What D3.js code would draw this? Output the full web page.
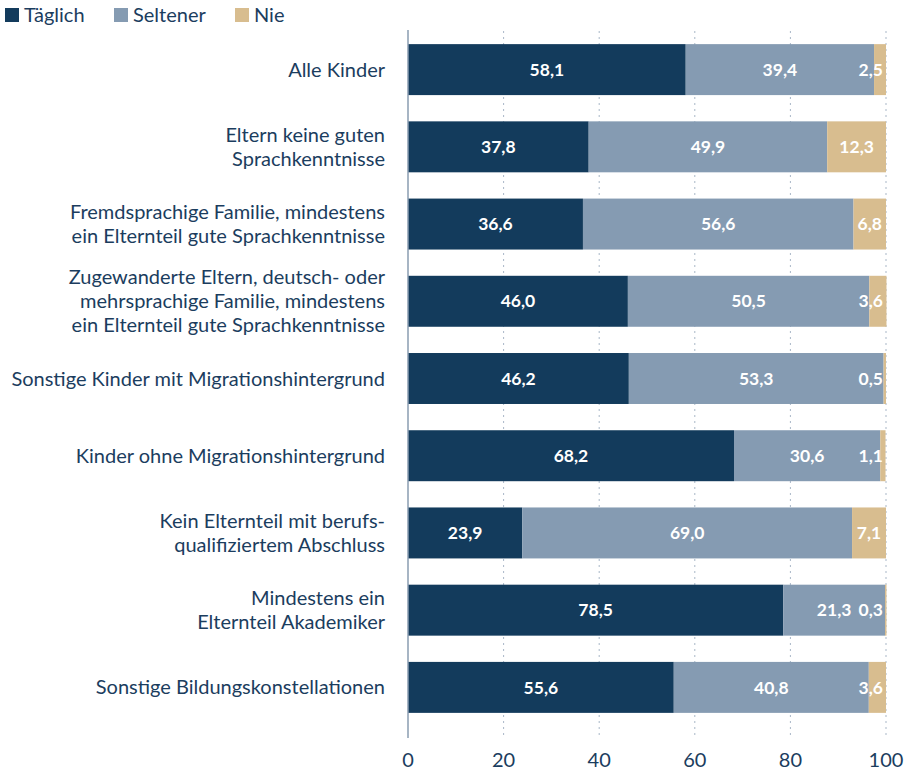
<!DOCTYPE html>
<html>
<head>
<meta charset="utf-8">
<script src="https://cdn.jsdelivr.net/npm/d3@7"></script>
<style>
  body { margin: 0; background: #fff; }
  text { font-family: "Source Sans Pro", Lato, "Noto Sans", sans-serif; }
</style>
</head>
<body>
<div id="chart"></div>
<script>
// Daten
const categories = [
  ["Alle Kinder"],
  ["Eltern keine guten", "Sprachkenntnisse"],
  ["Fremdsprachige Familie, mindestens", "ein Elternteil gute Sprachkenntnisse"],
  ["Zugewanderte Eltern, deutsch- oder", "mehrsprachige Familie, mindestens", "ein Elternteil gute Sprachkenntnisse"],
  ["Sonstige Kinder mit Migrationshintergrund"],
  ["Kinder ohne Migrationshintergrund"],
  ["Kein Elternteil mit berufs-", "qualifiziertem Abschluss"],
  ["Mindestens ein", "Elternteil Akademiker"],
  ["Sonstige Bildungskonstellationen"]
];
const taeglich = [58.1, 37.8, 36.6, 46.0, 46.2, 68.2, 23.9, 78.5, 55.6];
const seltener = [39.4, 49.9, 56.6, 50.5, 53.3, 30.6, 69.0, 21.3, 40.8];
const nie      = [2.5, 12.3, 6.8, 3.6, 0.5, 1.1, 7.1, 0.3, 3.6];
const seriesNames = ["Täglich", "Seltener", "Nie"];
const xTicks = [0, 20, 40, 60, 80, 100];

const colors = ["#133b5c", "#859bb2", "#d8bd8f"];
const textColor = "#1b3d5e";

const W = 907, H = 770;
const svg = d3.select("#chart").append("svg")
  .attr("width", W)
  .attr("height", H);

const plotL = 408, plotR = 886, plotT = 31, plotB = 726;

const rows = categories.map((c, i) => ({
  key: i, lines: c, vals: [taeglich[i], seltener[i], nie[i]]
}));

const x = d3.scaleLinear().domain([0, 100]).range([plotL, plotR]);
const y = d3.scaleBand()
  .domain(rows.map(d => d.key))
  .range([plotT, plotB])
  .paddingInner(0.34)
  .paddingOuter(0.17);

// Gitterlinien
svg.append("g")
  .selectAll("line")
  .data(xTicks.filter(t => t > 0))
  .enter()
  .append("line")
  .attr("x1", d => x(d)).attr("x2", d => x(d))
  .attr("y1", plotT).attr("y2", 738)
  .attr("stroke", "#a9b7c7")
  .attr("stroke-width", 1)
  .attr("stroke-dasharray", "2,4");

// Balken
const stack = d3.stack().keys([0, 1, 2]).value((d, k) => d.vals[k])(rows);

const layers = svg.append("g")
  .selectAll("g")
  .data(stack)
  .enter()
  .append("g")
  .attr("fill", (d, i) => colors[i]);

layers.selectAll("rect")
  .data(d => d)
  .enter()
  .append("rect")
  .attr("x", d => x(d[0]))
  .attr("width", d => x(d[1]) - x(d[0]))
  .attr("y", d => y(d.data.key))
  .attr("height", y.bandwidth());

// Werte in den Balken
const fmt = v => v.toFixed(1).replace(".", ",");
stack.forEach(layer => {
  layer.forEach(d => {
    const cx = (x(d[0]) + x(d[1])) / 2;
    const t = svg.append("text")
      .attr("y", y(d.data.key) + y.bandwidth() / 2)
      .attr("dy", "0.35em")
      .attr("text-anchor", "middle")
      .attr("fill", "#fff")
      .attr("font-size", "17.5px")
      .attr("font-weight", "bold")
      .text(fmt(d[1] - d[0]));
    const w = t.node().getComputedTextLength();
    t.attr("x", Math.min(cx, plotR - 3 - w / 2));
  });
});

// Achse links
svg.append("line")
  .attr("x1", plotL).attr("x2", plotL)
  .attr("y1", 30).attr("y2", 738)
  .attr("stroke", "#8a9cb0")
  .attr("stroke-width", 1.5);

// Kategorien
const lineH = 24;
rows.forEach(r => {
  const cy = y(r.key) + y.bandwidth() / 2;
  const n = r.lines.length;
  const t = svg.append("text")
    .attr("text-anchor", "end")
    .attr("fill", textColor)
    .attr("font-size", "20px");
  r.lines.forEach((l, j) => {
    t.append("tspan")
      .attr("x", 385)
      .attr("y", cy + (j - (n - 1) / 2) * lineH)
      .attr("dy", "0.35em")
      .text(l);
  });
});

// x-Achse Beschriftung
svg.append("g")
  .selectAll("text")
  .data(xTicks)
  .enter()
  .append("text")
  .attr("x", d => x(d))
  .attr("y", 760)
  .attr("dy", "0.35em")
  .attr("text-anchor", "middle")
  .attr("fill", textColor)
  .attr("font-size", "20px")
  .text(d => d);

// Legende
const legendX = [5, 114, 235];
const legend = svg.append("g");
seriesNames.forEach((s, i) => {
  legend.append("rect")
    .attr("x", legendX[i]).attr("y", 8)
    .attr("width", 14).attr("height", 14)
    .attr("fill", colors[i]);
  legend.append("text")
    .attr("x", legendX[i] + 19).attr("y", 15)
    .attr("dy", "0.35em")
    .attr("fill", textColor)
    .attr("font-size", "20px")
    .text(s);
});
</script>
</body>
</html>
